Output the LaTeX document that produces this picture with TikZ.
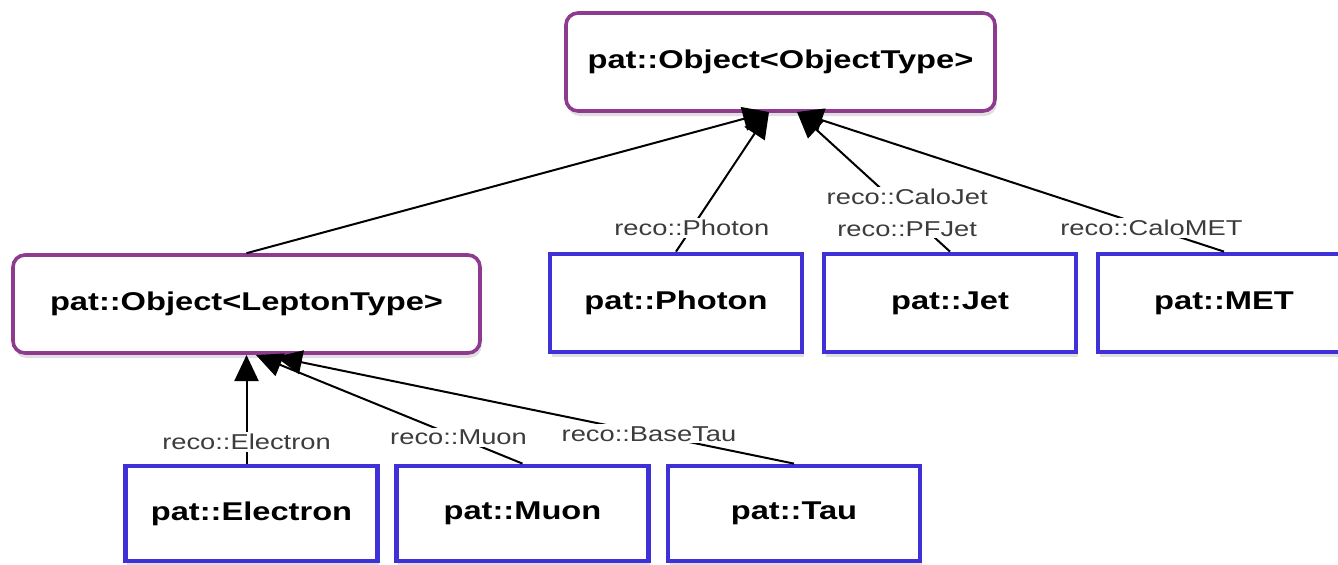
\documentclass[tikz,border=0pt]{standalone}
\usepackage{fontspec}
\setmainfont{Liberation Sans}[FakeStretch=1.27]
\usepackage{tikz}
\usetikzlibrary{arrows.meta,shadows}

\definecolor{patpurple}{RGB}{142,58,142}
\definecolor{patblue}{RGB}{64,48,216}
\definecolor{recogray}{RGB}{60,60,60}

\tikzset{
	base/.style={draw=patpurple, line width=1.8pt, rounded corners=6pt, fill=white,
		minimum height=49pt, font=\fontsize{12.85}{15}\selectfont\bfseries,
		drop shadow={shadow xshift=0.8pt, shadow yshift=-2.5pt, opacity=0.25}},
	leaf/.style={draw=patblue, line width=2.4pt, fill=white,
		minimum height=49pt, minimum width=126pt, font=\fontsize{12.85}{15}\selectfont\bfseries,
		drop shadow={shadow xshift=0.8pt, shadow yshift=-2.5pt, opacity=0.25}},
	conn/.style={-{Triangle[length=13pt,width=12pt]}, line width=1pt, black},
	lbl/.style={fill=white, inner sep=1pt, text=recogray, font=\fontsize{10.75}{16}\selectfont, align=center}
}

\begin{document}
\begin{tikzpicture}[x=0.5pt, y=-0.5pt]
	\useasboundingbox (0,0) rectangle (1338,564);

	\node[base, minimum width=214.5pt] (obj) at (780.5, 62)   {pat::Object<ObjectType>};
	\node[base, minimum width=233.5pt] (lep) at (246.5, 304)  {pat::Object<LeptonType>};

	\node[leaf] (photon) at (676, 303)    {pat::Photon};
	\node[leaf] (jet)    at (950, 303)    {pat::Jet};
	\node[leaf] (met)    at (1224, 303)   {pat::MET};

	\node[leaf, minimum height=47.5pt] (elec) at (251.5, 513.5) {pat::Electron};
	\node[leaf, minimum height=47.5pt] (muon) at (522.5, 513.5) {pat::Muon};
	\node[leaf, minimum height=47.5pt] (tau)  at (794, 513.5)   {pat::Tau};

	\coordinate (objL) at (769, 112);
	\coordinate (objR) at (797, 112);
	\coordinate (lepE) at (246.5, 355);
	\coordinate (lepM) at (256, 355);
	\coordinate (lepT) at (276, 357);

	\path[conn] (lep.north)  edge (objL);
	\path[conn] (photon.north) edge node[lbl, pos=0.17] {reco::Photon} (objL);
	\path[conn] (jet.north)  edge node[lbl, pos=0.28] {reco::CaloJet\\reco::PFJet} (objR);
	\path[conn] (met.north)  edge node[lbl, pos=0.17] {reco::CaloMET} (objR);

	\path[conn] (elec.north -| lepE) edge node[lbl, pos=0.2] {reco::Electron} (lepE);
	\path[conn] (muon.north) edge node[lbl, pos=0.24] {reco::Muon} (lepM);
	\path[conn] (tau.north)  edge node[lbl, pos=0.28] {reco::BaseTau} (lepT);
\end{tikzpicture}
\end{document}
